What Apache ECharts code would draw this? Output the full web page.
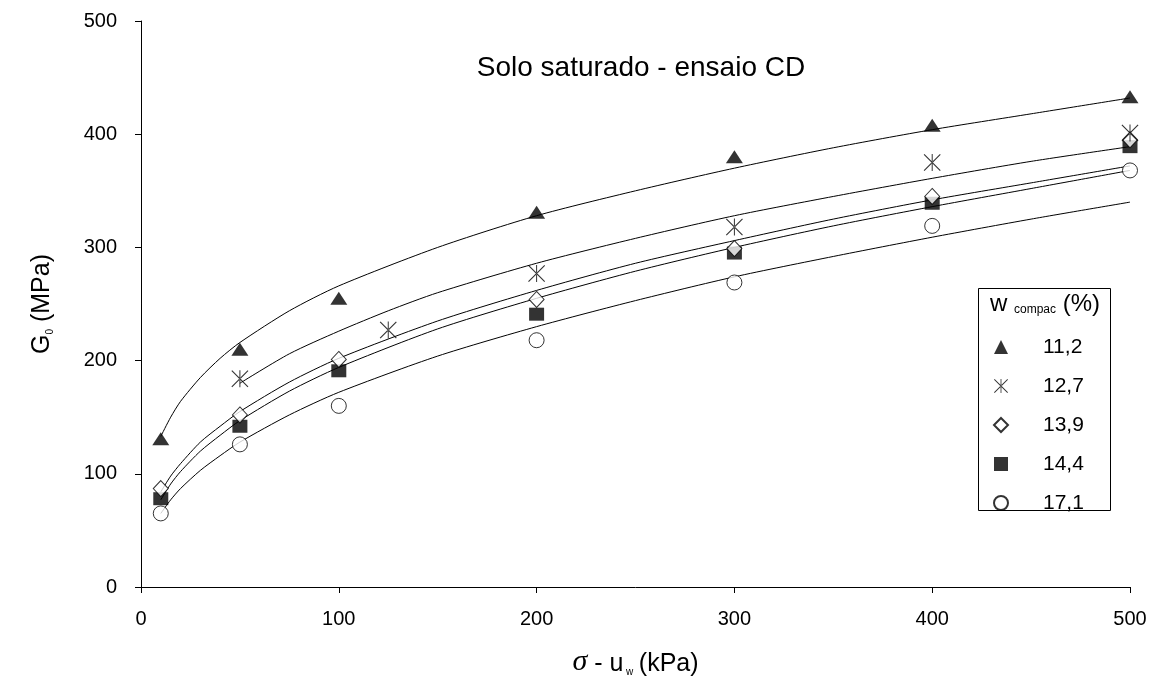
<!DOCTYPE html>
<html><head><meta charset="utf-8">
<script src="https://cdn.jsdelivr.net/npm/echarts@6/dist/echarts.min.js"></script>
<style>html,body{margin:0;padding:0;background:#fff}#c{width:1149px;height:680px}</style>
</head><body><div id="c"></div>
<script>
// ---- data ----
const seriesNames = ['11,2', '12,7', '13,9', '14,4', '17,1'];
const xMain = [10, 50, 100, 200, 300, 400, 500];
const xStar = [50, 125, 200, 300, 400, 500];
const g112 = [131, 210, 255, 331, 380, 408, 433];
const g127 = [184, 227, 277, 318, 375, 401];
const g139 = [87, 152, 201, 254, 299, 345, 395];
const g144 = [78, 142, 191, 241, 295, 339, 389];
const g171 = [65, 126, 160, 218, 269, 319, 368];
// trend curves
const xFit = [10, 15, 20, 30, 40, 50, 75, 100, 150, 200, 250, 300, 350, 400, 450, 500];
const xFitStar = [50, 75, 100, 125, 150, 200, 250, 300, 350, 400, 450, 500];
const fit112 = [133, 150, 164, 185, 202, 216, 244, 266, 300, 328, 350, 370, 388, 404, 418, 432];
const fit127 = [180, 206, 226, 244, 260, 286, 308, 328, 345, 361, 376, 389];
const fit139 = [84, 98, 109, 128, 142, 155, 181, 202, 235, 262, 286, 306, 325, 342, 357, 372];
const fit144 = [77, 91, 102, 120, 134, 147, 173, 194, 228, 255, 279, 300, 319, 336, 352, 368];
const fit171 = [65, 77, 87, 103, 116, 128, 152, 172, 204, 230, 253, 274, 292, 309, 325, 340];

const FONT = '"Liberation Sans", Arial, sans-serif';
const pairs = (xs, ys) => xs.map((x, i) => [x, ys[i]]);
const starPath = 'path://M8,0L9,0L9,17L8,17Z M0,0.8L0.8,0L17,16.2L16.2,17Z M17,0.8L16.2,0L0,16.2L0.8,17Z';

const chart = echarts.init(document.getElementById('c'), null, {renderer: 'canvas'});

function fitLine(xs, ys) {
  return {type: 'line', data: pairs(xs, ys), showSymbol: false, symbol: 'none', smooth: 0.25,
    lineStyle: {color: '#000', width: 1}, silent: true, z: 2, legendHoverLink: false};
}

const option = {
  animation: false,
  backgroundColor: '#fff',
  grid: {left: 141, right: 19, top: 21, bottom: 93, outerBoundsMode: 'none', containLabel: false},
  xAxis: {
    type: 'value', min: 0, max: 500, interval: 100,
    axisLine: {show: true, onZero: false, lineStyle: {color: '#000', width: 1}},
    axisTick: {show: true, length: 6, lineStyle: {color: '#000'}},
    axisLabel: {color: '#000', fontSize: 20, fontFamily: FONT, margin: 22},
    splitLine: {show: false},
    name: '{s|σ}{n| - u}{sub| w  }{n|(kPa)}',
    nameLocation: 'middle', nameGap: 60,
    nameTextStyle: {
      rich: {
        s: {fontSize: 30, fontFamily: '"Liberation Serif", serif', fontStyle: 'italic', color: '#000', verticalAlign: 'bottom', lineHeight: 30},
        n: {fontSize: 25, fontFamily: FONT, color: '#000', verticalAlign: 'bottom', lineHeight: 30},
        sub: {fontSize: 10, fontFamily: FONT, color: '#000', verticalAlign: 'bottom', lineHeight: 12}
      }
    }
  },
  yAxis: {
    type: 'value', min: 0, max: 500, interval: 100,
    axisLine: {show: true, onZero: false, lineStyle: {color: '#000', width: 1}},
    axisTick: {show: true, length: 6, lineStyle: {color: '#000'}},
    axisLabel: {color: '#000', fontSize: 20, fontFamily: FONT, margin: 24},
    splitLine: {show: false},
    name: '{n|G}{sub|0}{n| (MPa)}',
    nameLocation: 'middle', nameGap: 86, nameRotate: 90,
    nameTextStyle: {
      rich: {
        n: {fontSize: 25, fontFamily: FONT, color: '#000', verticalAlign: 'bottom', lineHeight: 30},
        sub: {fontSize: 10, fontFamily: FONT, color: '#000', verticalAlign: 'bottom', lineHeight: 12}
      }
    }
  },
  legend: {
    data: seriesNames, orient: 'vertical', left: 993, top: 335, padding: 0,
    itemWidth: 14, itemHeight: 14, itemGap: 15, selectedMode: false,
    textStyle: {fontSize: 21, lineHeight: 24, color: '#000', fontFamily: FONT, padding: [0, 0, 0, 30]}
  },
  graphic: [
    {type: 'rect', left: 976, top: 286, shape: {width: 132, height: 222},
      style: {fill: 'none', stroke: '#000', lineWidth: 1}, silent: true},
    {type: 'text', left: 990, top: 292, silent: true,
      style: {text: '{a|w }{b|compac}{a| (%)}', rich: {
        a: {fontSize: 24, fontFamily: FONT, fill: '#000', verticalAlign: 'bottom', lineHeight: 28},
        b: {fontSize: 12, fontFamily: FONT, fill: '#000', verticalAlign: 'bottom', lineHeight: 12}
      }}},
    {type: 'text', x: 641, y: 68, silent: true,
      style: {text: 'Solo saturado - ensaio CD', align: 'center', verticalAlign: 'middle',
        fontSize: 28, fontFamily: FONT, fill: '#000'}}
  ],
  series: [
    fitLine(xFit, fit112),
    fitLine(xFitStar, fit127),
    fitLine(xFit, fit139),
    fitLine(xFit, fit144),
    fitLine(xFit, fit171),
    {type: 'scatter', name: seriesNames[0], data: pairs(xMain, g112), symbol: 'triangle', symbolSize: [17, 13],
      itemStyle: {color: '#000'}, z: 5},
    {type: 'scatter', name: seriesNames[1], data: pairs(xStar, g127), symbol: starPath, symbolSize: [17, 17],
      symbolKeepAspect: false, itemStyle: {color: '#000'}, z: 6},
    {type: 'scatter', name: seriesNames[2], data: pairs(xMain, g139), symbol: 'diamond', symbolSize: [15, 16],
      itemStyle: {color: '#fff', borderColor: '#000', borderWidth: 1}, z: 5},
    {type: 'scatter', name: seriesNames[3], data: pairs(xMain, g144), symbol: 'rect', symbolSize: [15, 13],
      itemStyle: {color: '#000'}, z: 4},
    {type: 'scatter', name: seriesNames[4], data: pairs(xMain, g171), symbol: 'circle', symbolSize: 15,
      itemStyle: {color: '#fff', borderColor: '#000', borderWidth: 1}, z: 5}
  ]
};
chart.setOption(option);
</script>
</body></html>
